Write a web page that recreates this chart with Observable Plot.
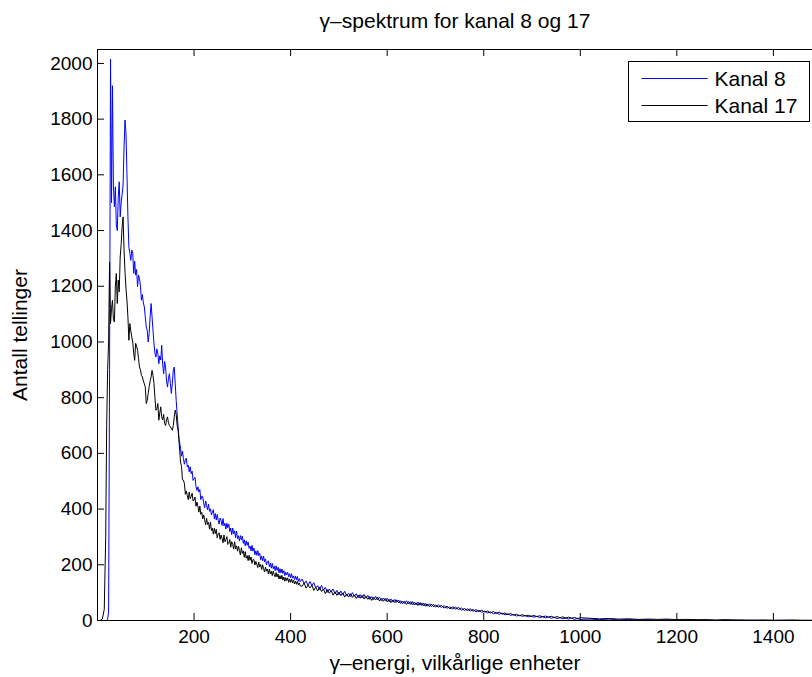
<!DOCTYPE html>
<html>
<head>
<meta charset="utf-8">
<script src="https://cdn.jsdelivr.net/npm/d3@7"></script>
<script src="https://cdn.jsdelivr.net/npm/@observablehq/plot@0.6"></script>
<style>
  html, body { margin: 0; padding: 0; background: #fff; overflow: hidden; }
  #wrap { position: relative; width: 812px; height: 677px; }
</style>
</head>
<body>
<div id="wrap"></div>
<script>
const titleText = "γ–spektrum for kanal 8 og 17";
const xLabelText = "γ–energi, vilkårlige enheter";
const yLabelText = "Antall tellinger";
const seriesNames = ["Kanal 8", "Kanal 17"];
const seriesColors = ["#0000ff", "#000000"];
const xTicks = [200, 400, 600, 800, 1000, 1200, 1400];
const yTicks = [0, 200, 400, 600, 800, 1000, 1200, 1400, 1600, 1800, 2000];

const channel = [
  0, 5, 10, 14, 17, 19, 21, 23,
  25, 27, 29, 31, 33, 35, 37, 39, 41, 43, 45, 47, 49, 51, 53, 55, 57, 59, 61, 63, 65, 67, 69,
  71, 73, 75, 77, 79, 81, 83, 85, 87, 89, 91, 93, 95, 97, 99, 101, 103, 105, 107, 109, 111,
  113, 115, 117, 119, 121, 123, 125, 127, 129, 131, 133, 135, 137, 139, 141, 143, 145, 147,
  149, 151, 153, 155, 157, 159, 161, 163, 165, 167, 169,
  172, 174, 176, 178, 180, 182, 184, 186, 188, 190, 192, 194, 196, 198, 200,
  202, 204, 206, 208, 210, 212, 214, 216, 218, 220, 222, 224, 226, 228, 230,
  232, 234, 236, 238, 240, 242, 244, 246, 248, 250, 252, 254, 256, 258, 260,
  262, 264, 266, 268, 270, 272, 274, 276, 278, 280, 282, 284, 286, 288, 290,
  292, 294, 296, 298, 300, 302, 304, 306, 308, 310, 312, 314, 316, 318, 320,
  322, 324, 326, 328, 330, 332, 334, 336, 338, 340, 342, 344, 346, 348, 350,
  352, 354, 356, 358, 360, 362, 364, 366, 368, 370, 372, 374, 376, 378, 380,
  382, 384, 386, 388, 390, 392, 394, 396, 398, 400, 402, 404, 406, 408, 410,
  412, 414, 416, 418, 420,
  424, 428, 432, 436, 440, 444, 448, 452, 456, 460, 464, 468, 472, 476, 480,
  484, 488, 492, 496, 500, 504, 508, 512, 516, 520, 524, 528, 532, 536, 540,
  544, 548, 552, 556, 560, 564, 568, 572, 576, 580, 584, 588, 592, 596, 600,
  604, 608, 612, 616, 620, 624, 628, 632, 636, 640, 644, 648, 652, 656, 660,
  664, 668, 672, 676, 680, 684, 688, 692, 696, 700,
  706, 712, 718, 724, 730, 736, 742, 748, 754, 760, 766, 772, 778, 784, 790,
  796, 802, 808, 814, 820, 826, 832, 838, 844, 850, 856, 862, 868, 874, 880,
  886, 892, 898, 904, 910, 916, 922, 928, 934, 940, 946, 952, 958, 964, 970,
  976, 982, 988, 994, 1000,
  1020, 1040, 1060, 1080, 1100, 1120, 1140, 1160, 1180, 1200, 1220, 1240,
  1260, 1280, 1300, 1320, 1340, 1360, 1380, 1400, 1420, 1440, 1460, 1480
];

const kanal8 = [
  0, 0, 0, 0, 0, 0, 5, 30,
  900, 2015, 1500, 1920, 1560, 1485, 1557, 1420, 1400, 1520, 1575, 1449, 1500, 1530, 1563, 1700,
  1797, 1750, 1605, 1450, 1340, 1318, 1293, 1330, 1318, 1246, 1290, 1240, 1260, 1198, 1240, 1228,
  1200, 1150, 1170, 1140, 1126, 1090, 1054, 1042, 1000, 1030, 1090, 1138, 1090, 1040, 994, 960,
  946, 975, 958, 922, 950, 935, 988, 920, 886, 930, 910, 860, 838, 870, 886, 850, 815, 850,
  900, 910, 850, 790, 740, 695, 650,
  619, 590, 608, 581, 561, 576, 583, 551, 557, 534, 552, 527, 536, 503, 509,
  514, 481, 467, 480, 461, 470, 434, 446, 444, 419, 405, 429, 413, 397, 418,
  392, 401, 379, 390, 398, 365, 384, 361, 381, 360, 346, 368, 359, 341, 366,
  340, 349, 328, 349, 333, 346, 319, 332, 308, 332, 311, 322, 297, 321, 294,
  304, 285, 305, 290, 303, 277, 290, 268, 286, 270, 282, 259, 267, 250, 270,
  249, 260, 236, 250, 234, 251, 233, 241, 218, 232, 214, 231, 211, 221, 200,
  211, 214, 193, 206, 188, 205, 186, 195, 179, 196, 180, 191, 171, 186, 171,
  185, 169, 179, 161, 173, 164, 173, 157, 168, 153, 168, 152, 160, 147, 160,
  146, 158, 141, 150, 139,
  149, 132, 142, 126, 140, 125, 136, 117, 125, 111, 126, 109, 119, 101, 113,
  103, 113, 96, 108, 92, 106, 93, 105, 89, 98, 86, 100, 87, 96, 82,
  93, 81, 94, 80, 90, 76, 86, 75, 87, 74, 84, 71, 81, 71, 80,
  67, 77, 66, 76, 65, 73, 61, 70, 61, 71, 60, 68, 56, 66, 56,
  66, 55, 63, 52, 61, 51, 60, 50, 58, 48,
  56, 47, 53, 44, 49, 41, 48, 39, 45, 36, 42, 34, 40, 31, 37,
  29, 34, 27, 31, 24, 29, 22, 27, 20, 24, 18, 22, 16, 19, 15,
  18, 13, 16, 12, 15, 10, 14, 9, 13, 8, 11, 7, 10, 6, 9,
  5, 9, 4, 7, 4,
  5, 3, 5, 2, 4, 2, 3, 1, 3, 1, 2, 1,
  2, 0, 1, 1, 0, 1, 0, 0, 1, 0, 0, 0
];

const kanal17 = [
  0, 0, 5, 40, 300, 700, 900, 1000,
  1287, 1066, 1120, 1150, 1080, 1072, 1200, 1246, 1138, 1222, 1180, 1305, 1350, 1413, 1449, 1330,
  1250, 1193, 1150, 1090, 1006, 1066, 1040, 1018, 1000, 960, 934, 995, 985, 970, 940, 910,
  900, 880, 874, 860, 850, 838, 779, 790, 815, 840, 860, 874, 898, 880, 851, 800,
  755, 760, 779, 719, 745, 767, 731, 720, 740, 707, 700, 720, 731, 710, 700, 695, 690, 683,
  700, 731, 755, 740, 700, 683, 640,
  569, 553, 505, 504, 492, 453, 465, 449, 434, 461, 437, 445, 457, 429, 433,
  443, 410, 425, 410, 389, 411, 381, 388, 365, 379, 361, 343, 367, 345, 352,
  328, 353, 323, 331, 310, 331, 312, 327, 296, 312, 315, 291, 307, 295, 279,
  307, 283, 290, 301, 273, 277, 291, 263, 283, 273, 256, 283, 257, 268, 249,
  267, 251, 235, 261, 241, 250, 227, 247, 224, 233, 215, 234, 216, 228, 205,
  218, 219, 199, 212, 201, 190, 210, 192, 201, 183, 200, 186, 174, 192, 177,
  185, 167, 184, 167, 177, 161, 178, 164, 157, 172, 156, 167, 149, 161, 149,
  162, 145, 156, 141, 154, 143, 153, 137, 149, 137, 149, 135, 145, 131, 141,
  130, 141, 128, 135, 124,
  123, 135, 116, 127, 117, 127, 108, 119, 106, 119, 104, 113, 96, 111, 98,
  107, 91, 103, 90, 102, 89, 99, 84, 95, 84, 96, 83, 92, 79, 91,
  80, 90, 77, 87, 76, 86, 72, 83, 74, 83, 70, 79, 69, 79, 67,
  76, 64, 74, 64, 74, 63, 71, 60, 69, 58, 68, 58, 68, 56, 64,
  54, 64, 54, 62, 51, 59, 50, 59, 49, 56,
  48, 54, 45, 51, 42, 49, 41, 47, 37, 43, 36, 42, 33, 39, 32,
  37, 30, 34, 27, 32, 25, 30, 23, 27, 21, 25, 19, 22, 17, 21,
  16, 19, 15, 18, 14, 17, 13, 16, 12, 15, 11, 14, 10, 13, 9,
  12, 8, 11, 7, 10,
  8, 6, 7, 5, 6, 4, 5, 4, 5, 3, 4, 3,
  3, 2, 3, 2, 2, 1, 2, 1, 1, 2, 1, 1
];

const d8 = channel.map((c, i) => ({c, v: kanal8[i]}));
const d17 = channel.map((c, i) => ({c, v: kanal17[i]}));

const W = 812, H = 677, mL = 97, mR = 0, mT = 49, mB = 57;
const fw = W - mL - mR, fh = H - mT - mB, tk = 7;
const fontFam = "'Liberation Sans', Arial, sans-serif";

const chart = Plot.plot({
  width: W, height: H,
  marginLeft: mL, marginRight: mR, marginTop: mT, marginBottom: mB,
  style: {fontFamily: fontFam, fontSize: "19px", color: "#000", background: "#fff", overflow: "visible"},
  x: {domain: [0, 1481], label: null},
  y: {domain: [0, 2050], label: null},
  marks: [
    Plot.lineY(d8, {x: "c", y: "v", stroke: seriesColors[0], strokeWidth: 1}),
    Plot.lineY(d17, {x: "c", y: "v", stroke: seriesColors[1], strokeWidth: 1}),
    Plot.ruleY([0, 2050], {stroke: "#000", strokeWidth: 1}),
    Plot.ruleX([0], {stroke: "#000", strokeWidth: 1}),
    Plot.tickX(xTicks, {x: d => d, insetTop: fh - tk, stroke: "#000"}),
    Plot.tickX(xTicks, {x: d => d, insetBottom: fh - tk, stroke: "#000"}),
    Plot.tickY(yTicks, {y: d => d, insetRight: fw - tk, stroke: "#000"}),
    Plot.axisX(xTicks, {tickSize: 0, tickPadding: 9, tickFormat: d => String(d), fill: "#000"}),
    Plot.axisY(yTicks, {tickSize: 0, tickPadding: 5, tickFormat: d => String(d), fill: "#000"}),
    Plot.text([titleText], {text: d => d, frameAnchor: "top", lineAnchor: "middle", dy: -28, fontSize: 21, fill: "#000"}),
    Plot.text([xLabelText], {text: d => d, frameAnchor: "bottom", lineAnchor: "middle", dy: 43, fontSize: 21, fill: "#000"}),
    Plot.text([yLabelText], {text: d => d, frameAnchor: "left", textAnchor: "middle", lineAnchor: "middle", rotate: -90, dx: -77, fontSize: 21, fill: "#000"})
  ]
});

const wrap = document.getElementById("wrap");
wrap.appendChild(chart);

// legend box inside the plot area (top right), drawn into the same SVG
const svg = d3.select(chart);
const lg = svg.append("g").attr("transform", "translate(628.5,61.5)");
lg.append("rect").attr("width", 181).attr("height", 60)
  .attr("fill", "#fff").attr("stroke", "#000").attr("stroke-width", 1);
seriesNames.forEach((name, i) => {
  const yy = 17 + i * 27;
  lg.append("line").attr("x1", 13).attr("x2", 79).attr("y1", yy).attr("y2", yy)
    .attr("stroke", seriesColors[i]).attr("stroke-width", 1);
  lg.append("text").attr("x", 86).attr("y", yy).attr("dy", "0.35em")
    .attr("text-anchor", "start")
    .attr("font-family", fontFam).attr("font-size", 21).attr("fill", "#000").text(name);
});
</script>
</body>
</html>
